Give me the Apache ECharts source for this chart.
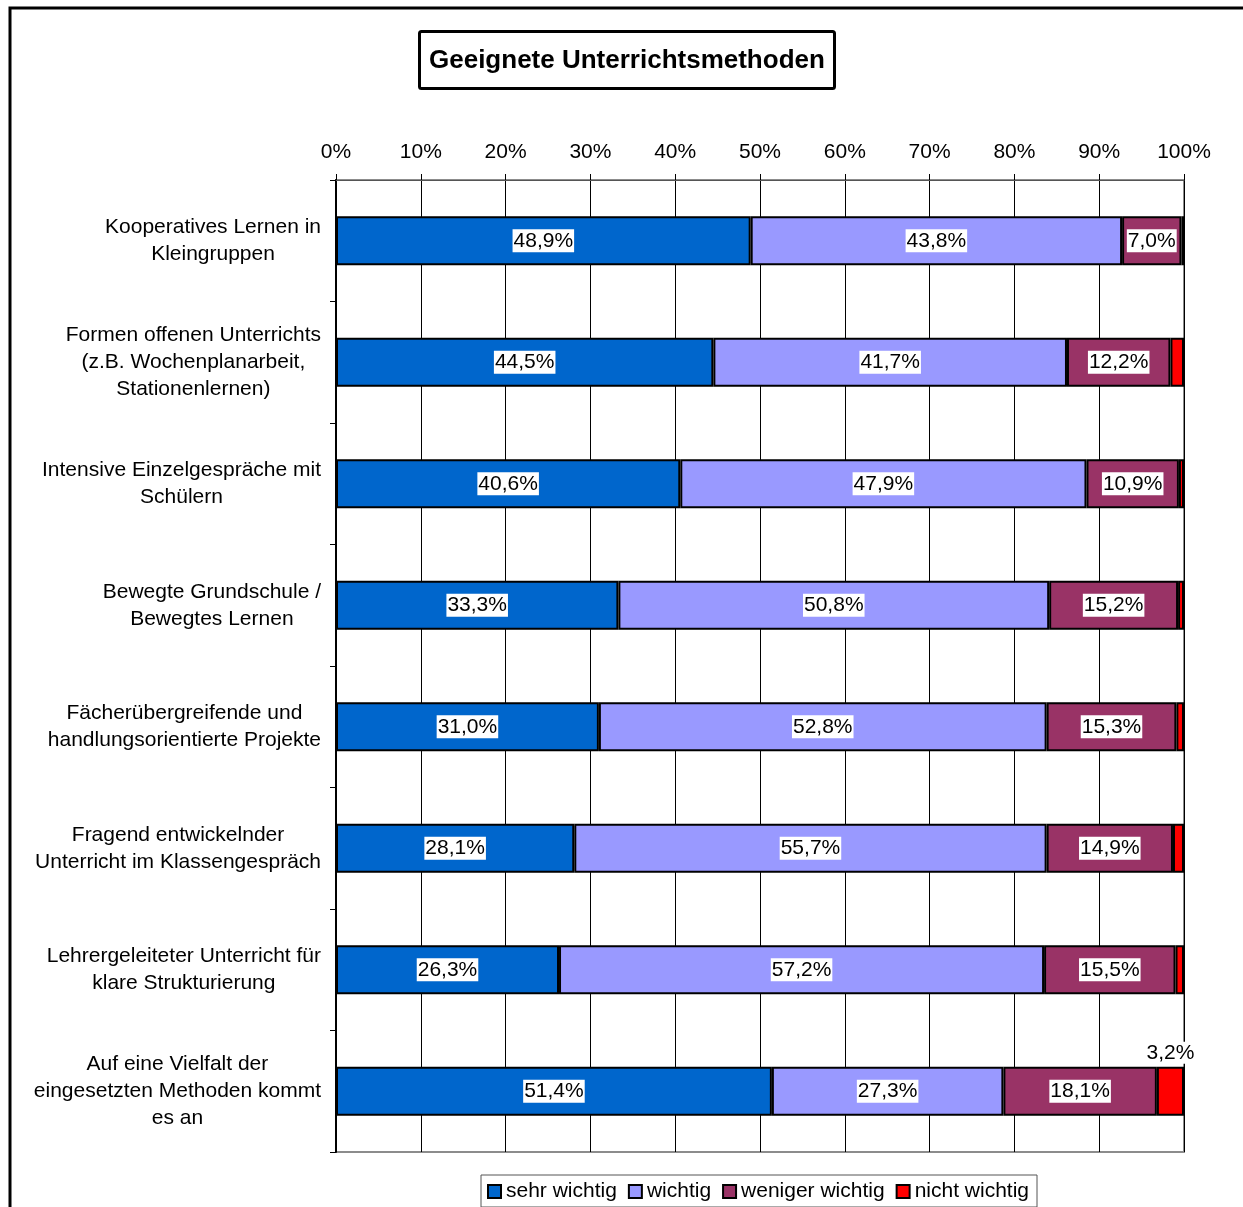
<!DOCTYPE html>
<html>
<head>
<meta charset="utf-8">
<script src="https://cdn.jsdelivr.net/npm/echarts@6/dist/echarts.min.js"></script>
<style>
  html, body { margin: 0; padding: 0; background: #fff; }
  #chart { width: 1243px; height: 1207px; }
</style>
</head>
<body>
<div id="chart"></div>
<script>
// Teaching methods and how important teachers rate them (shares in %)
const categories = [
  'Kooperatives Lernen in\nKleingruppen',
  'Formen offenen Unterrichts\n(z.B. Wochenplanarbeit,\nStationenlernen)',
  'Intensive Einzelgespräche mit\nSchülern',
  'Bewegte Grundschule /\nBewegtes Lernen',
  'Fächerübergreifende und\nhandlungsorientierte Projekte',
  'Fragend entwickelnder\nUnterricht im Klassengespräch',
  'Lehrergeleiteter Unterricht für\nklare Strukturierung',
  'Auf eine Vielfalt der\neingesetzten Methoden kommt\nes an'
];
const sehrWichtig    = [48.9, 44.5, 40.6, 33.3, 31.0, 28.1, 26.3, 51.4];
const wichtig        = [43.8, 41.7, 47.9, 50.8, 52.8, 55.7, 57.2, 27.3];
const wenigerWichtig = [7.0, 12.2, 10.9, 15.2, 15.3, 14.9, 15.5, 18.1];
const nichtWichtig   = [0.3, 1.6, 0.6, 0.7, 0.9, 1.3, 1.0, 3.2];
const xTicks = [0, 10, 20, 30, 40, 50, 60, 70, 80, 90, 100];

const FONT = '"Liberation Sans", Arial, sans-serif';
const FS = 21;
const fmt = v => v.toFixed(1).replace('.', ',') + '%';

const insideLabel = {
  show: true,
  position: 'inside',
  color: '#000',
  fontFamily: FONT,
  fontSize: FS,
  backgroundColor: '#fff',
  padding: [2, 1, 0, 1],
  formatter: p => fmt(p.value)
};

function barSeries(name, values, color, label) {
  return {
    name: name,
    type: 'bar',
    stack: 'total',
    barWidth: 49,
    data: values,
    itemStyle: { color: color, borderColor: '#000', borderWidth: 2 },
    label: label,
    emphasis: { disabled: true }
  };
}

// small segments stay unlabeled; the wide enough one gets its label above
const nichtData = nichtWichtig.map(v => ({
  value: v,
  label: v >= 2 ? {
    show: true, position: 'top', distance: 3, color: '#000',
    fontFamily: FONT, fontSize: FS, backgroundColor: '#fff',
    padding: [1, 1, 0, 1], formatter: p => fmt(p.value)
  } : { show: false }
}));

const chart = echarts.init(document.getElementById('chart'), null, { renderer: 'canvas' });
chart.setOption({
  animation: false,
  backgroundColor: '#fff',
  textStyle: { fontFamily: FONT },
  title: {
    text: 'Geeignete Unterrichtsmethoden',
    left: 419,
    top: 31,
    padding: [17, 10, 15, 10],
    borderColor: '#000',
    borderWidth: 3,
    borderRadius: 2,
    textStyle: { fontFamily: FONT, fontSize: 26, fontWeight: 'bold', color: '#000' }
  },
  legend: {
    left: 481,
    top: 1175,
    padding: [6, 8, 5, 6],
    itemGap: 11,
    itemWidth: 13,
    itemHeight: 13,
    borderColor: '#555',
    borderWidth: 1,
    textStyle: { fontFamily: FONT, fontSize: FS, color: '#000', padding: [3, 0, 0, 0] },
    itemStyle: { borderColor: '#000', borderWidth: 2 },
    icon: 'rect',
    data: ['sehr wichtig', 'wichtig', 'weniger wichtig', 'nicht wichtig']
  },
  grid: {
    left: 336,
    right: 59,
    top: 180,
    bottom: 55,
    show: true,
    borderColor: '#8c8c8c',
    borderWidth: 2,
    containLabel: false
  },
  xAxis: {
    type: 'value',
    position: 'top',
    min: xTicks[0],
    max: xTicks[xTicks.length - 1],
    interval: 10,
    axisLine: { show: true, lineStyle: { color: '#555', width: 1 } },
    axisTick: { show: true, length: 6, lineStyle: { color: '#000' } },
    splitLine: { show: true, lineStyle: { color: '#000', width: 1 } },
    axisLabel: {
      margin: 17,
      fontFamily: FONT,
      fontSize: FS,
      color: '#000',
      formatter: v => v + '%'
    }
  },
  yAxis: {
    type: 'category',
    inverse: true,
    data: categories,
    axisLine: { show: true, lineStyle: { color: '#000', width: 2 } },
    axisTick: { show: true, length: 6, lineStyle: { color: '#000' } },
    axisLabel: {
      margin: 15,
      align: 'right',
      formatter: v => v.split('\n').map(s => '{c|' + s + '}').join('\n'),
      rich: {
        c: { align: 'center', fontFamily: FONT, fontSize: FS, color: '#000', lineHeight: 27 }
      }
    }
  },
  series: [
    barSeries('sehr wichtig', sehrWichtig, '#0066CC', insideLabel),
    barSeries('wichtig', wichtig, '#9999FF', insideLabel),
    barSeries('weniger wichtig', wenigerWichtig, '#993366', insideLabel),
    barSeries('nicht wichtig', nichtData, '#FF0000', { show: false })
  ],
  graphic: [{
    type: 'rect',
    silent: true,
    shape: { x: 10, y: 8, width: 1400, height: 1400 },
    style: { fill: 'none', stroke: '#000', lineWidth: 3 },
    z: 100
  }]
});
</script>
</body>
</html>
